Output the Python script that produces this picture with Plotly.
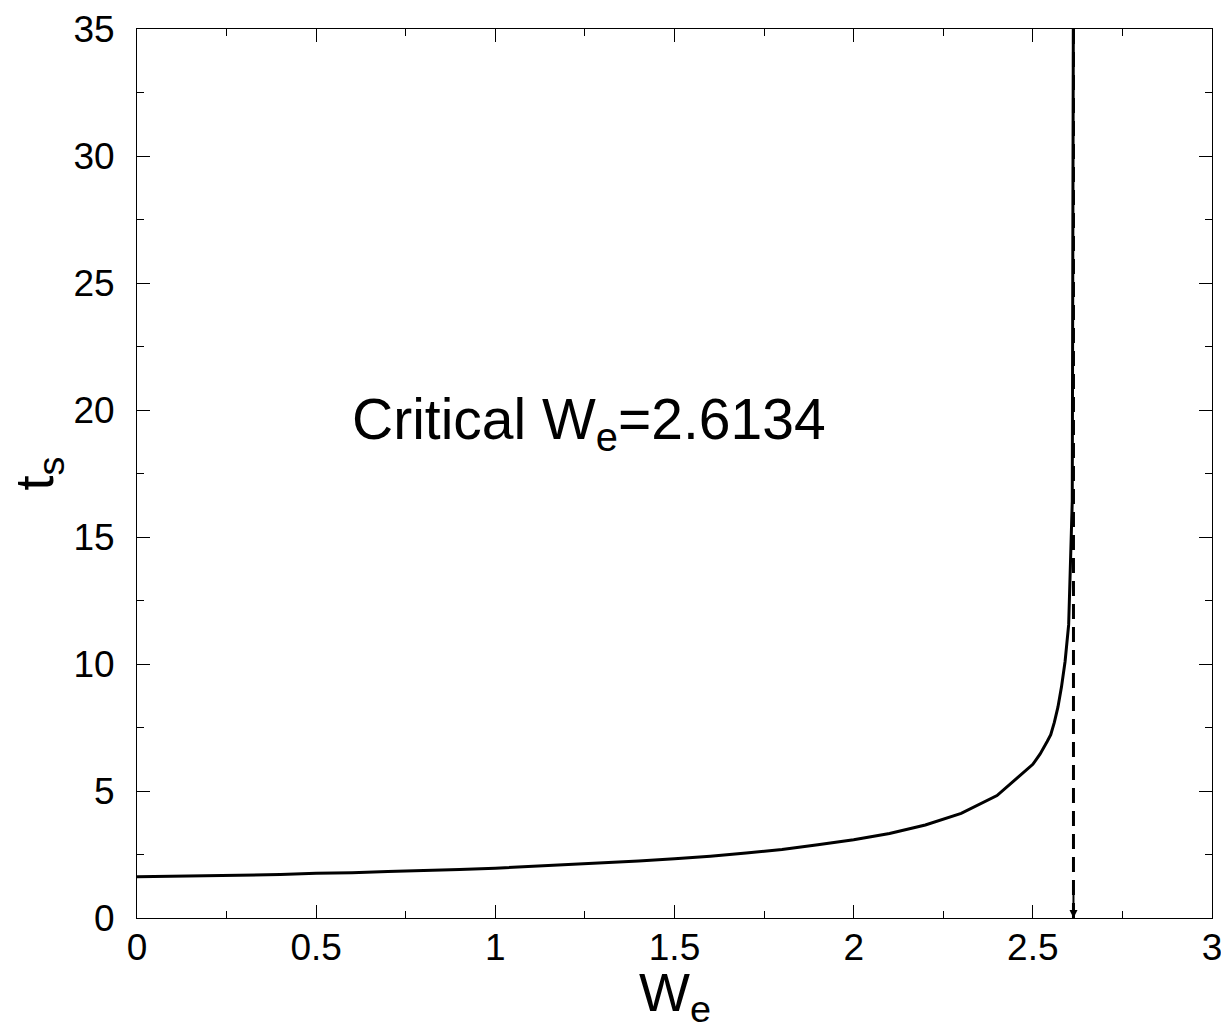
import plotly.graph_objects as go

# Curve data
we = [0.0, 0.1, 0.2, 0.3, 0.4, 0.5, 0.6, 0.7, 0.8, 0.9, 1.0, 1.1, 1.2, 1.3, 1.4,
      1.5, 1.6, 1.7, 1.8, 1.9, 2.0, 2.1, 2.2, 2.3, 2.4, 2.5, 2.52, 2.54, 2.55,
      2.56, 2.57, 2.58, 2.59, 2.6, 2.605, 2.61, 2.613]
ts = [1.62, 1.64, 1.66, 1.69, 1.71, 1.76, 1.78, 1.83, 1.86, 1.91, 1.96, 2.03,
      2.09, 2.16, 2.24, 2.33, 2.43, 2.56, 2.70, 2.88, 3.08, 3.33, 3.66, 4.12,
      4.82, 6.05, 6.45, 6.95, 7.22, 7.7, 8.3, 9.1, 10.1, 11.55, 13.8, 16.4, 35.0]

critical_we = 2.6134
critical_line_y = [35, 0]

x_ticks = [0, 0.5, 1, 1.5, 2, 2.5, 3]
x_ticklabels = ["0", "0.5", "1", "1.5", "2", "2.5", "3"]
y_ticks = [0, 5, 10, 15, 20, 25, 30, 35]

FONT = "Liberation Sans, Arial, sans-serif"

fig = go.Figure()
fig.add_trace(go.Scatter(x=we, y=ts, mode="lines",
                         line=dict(color="black", width=3), showlegend=False))
fig.add_trace(go.Scatter(x=[critical_we, critical_we], y=critical_line_y, mode="lines",
                         line=dict(color="black", width=3, dash="15px,8px"),
                         showlegend=False))

# arrowhead at the bottom of the dashed line
fig.add_annotation(x=critical_we, y=0, ax=critical_we, ay=1.0,
                   xref="x", yref="y", axref="x", ayref="y",
                   showarrow=True, arrowhead=2, arrowsize=0.8, arrowwidth=2,
                   arrowcolor="black", text="")

fig.add_annotation(x=1.26, y=19.5, xref="x", yref="y",
                   text="Critical W<sub>e</sub>=2.6134", showarrow=False,
                   font=dict(family=FONT, size=57, color="black"))

# axis titles
fig.add_annotation(x=0.5, y=0, xref="paper", yref="paper", yanchor="top",
                   yshift=-42, text="W<sub>e</sub>", showarrow=False,
                   font=dict(family=FONT, size=54, color="black"))
fig.add_annotation(x=0, y=0.5, xref="paper", yref="paper", xanchor="center",
                   xshift=-100, text="t<sub>s</sub>", showarrow=False, textangle=-90,
                   font=dict(family=FONT, size=54, color="black"))

axis_common = dict(
    showgrid=False, zeroline=False, showline=True, linecolor="black", linewidth=1,
    mirror="ticks", ticks="inside", tickcolor="black", tickwidth=1, ticklen=13,
    tickfont=dict(family=FONT, size=37, color="black"), automargin=False,
)

fig.update_xaxes(range=[0, 3], tickvals=x_ticks, ticktext=x_ticklabels,
                 minor=dict(dtick=0.25, ticks="inside", ticklen=7, tickcolor="black", tickwidth=1),
                 ticklabelstandoff=-3,
                 **axis_common)
fig.update_yaxes(range=[0, 35], tickvals=y_ticks,
                 minor=dict(dtick=2.5, ticks="inside", ticklen=7, tickcolor="black", tickwidth=1),
                 ticklabelstandoff=14,
                 **axis_common)

fig.update_layout(width=1221, height=1025,
                  margin=dict(l=129, r=17, t=21, b=115),
                  plot_bgcolor="white", paper_bgcolor="white",
                  font=dict(family=FONT, color="black"))

fig.write_html("out.html")
